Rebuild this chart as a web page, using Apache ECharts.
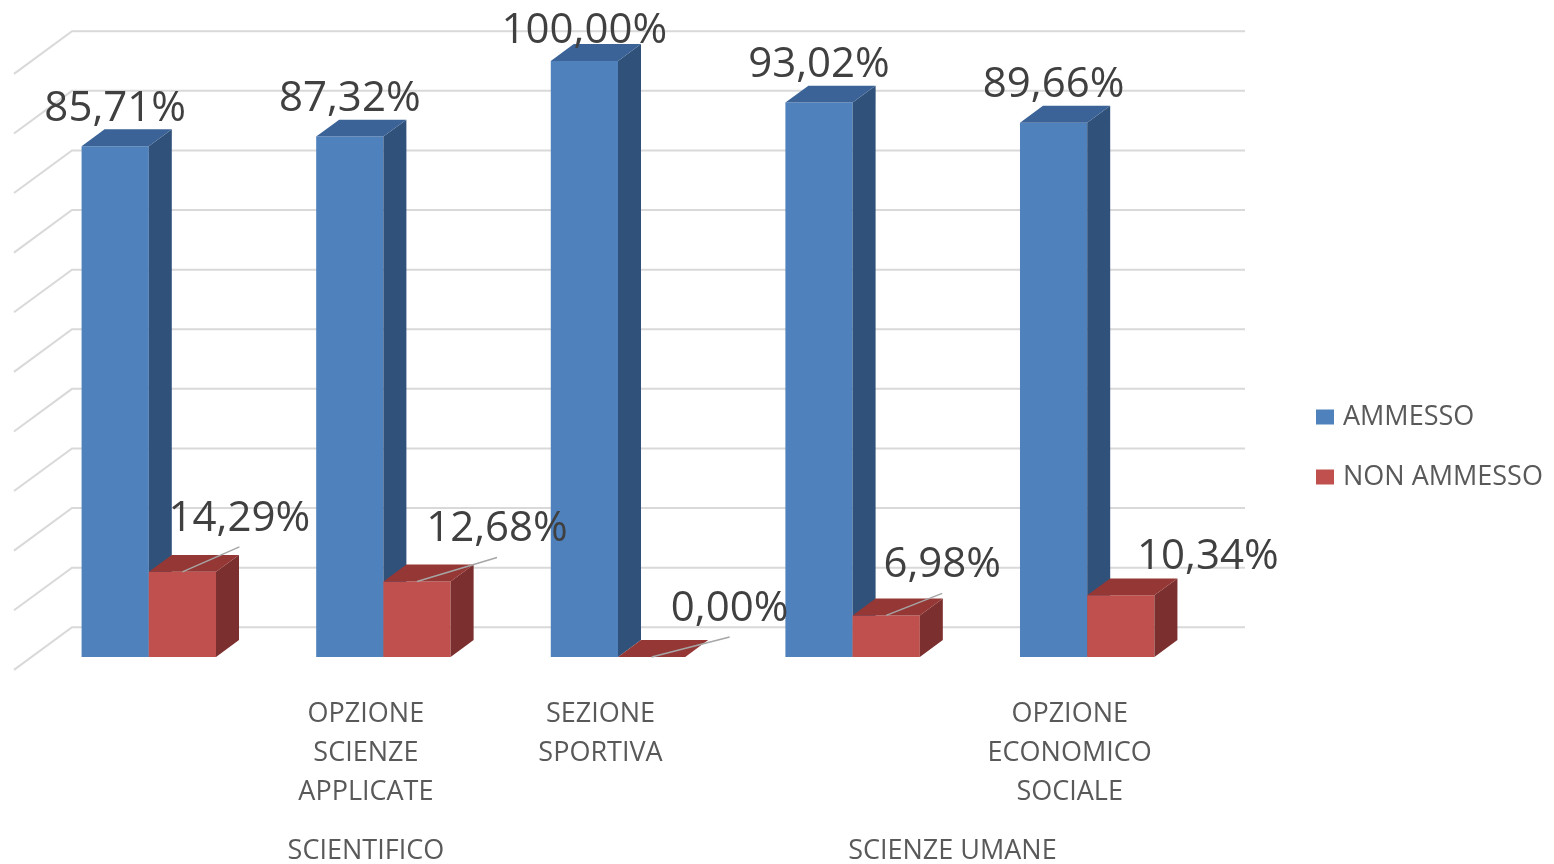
<!DOCTYPE html>
<html>
<head>
<meta charset="utf-8">
<script src="https://cdn.jsdelivr.net/npm/echarts@6/dist/echarts.min.js"></script>
<style>
  html, body { margin: 0; padding: 0; background: #fff; }
  #chart { width: 1554px; height: 864px; }
</style>
</head>
<body>
<div id="chart"></div>
<script>
// data
var categories = ['', 'OPZIONE\nSCIENZE\nAPPLICATE', 'SEZIONE\nSPORTIVA', '', 'OPZIONE\nECONOMICO\nSOCIALE'];
var groupNames = ['SCIENTIFICO', 'SCIENZE UMANE'];
var groupSpans = [[0, 2], [3, 4]];
var ammesso = [85.71, 87.32, 100.00, 93.02, 89.66];
var nonAmmesso = [14.29, 12.68, 0.00, 6.98, 10.34];
var yTicks = [0, 10, 20, 30, 40, 50, 60, 70, 80, 90, 100];

// layout of the fake 3d look
var FONT = '"Open Sans", "Liberation Sans", sans-serif';
var SLOPE = 0.735;          // depth direction: up SLOPE px per px right
var BAR_DEPTH = 23;
var WALL_FRONT = -17.5;
var WALL_BACK = 40.5;
var BAR_RATIO = 0.2865;     // bar width / category width
// red labels were dragged by hand in the original
var redLabelDx = [57, 80, 78, 56, 87];
var redLabelDy = [-56, -55, -51, -53, -41];

var blueFaces = ['#4f81bd', '#3b6397', '#30527a'];
var redFaces = ['#c0504d', '#953735', '#7b2f2e'];

function fmt(v) {
    return v.toFixed(2).replace('.', ',') + '%';
}

function makeBar(side, faces) {
    return function (params, api) {
        var i = api.value(0), v = api.value(1);
        var base = api.coord([i, 0]);
        var top = api.coord([i, v]);
        var w = api.size([1, 0])[0] * BAR_RATIO;
        var x0 = side === 0 ? base[0] - w : base[0];
        var x1 = x0 + w;
        var dx = BAR_DEPTH, dy = -BAR_DEPTH * SLOPE;
        var yt = top[1], yb = base[1];
        var z = side + 1;
        var children = [
            {type: 'rect', z2: z, shape: {x: x0, y: yt, width: w, height: yb - yt}, style: {fill: faces[0]}},
            {type: 'polygon', z2: z, shape: {points: [[x1, yt], [x1 + dx, yt + dy], [x1 + dx, yb + dy], [x1, yb]]}, style: {fill: faces[2]}},
            {type: 'polygon', z2: z, shape: {points: [[x0, yt], [x0 + dx, yt + dy], [x1 + dx, yt + dy], [x1, yt]]}, style: {fill: faces[1]}}
        ];
        var cx = (x0 + x1) / 2, ly, lx = cx;
        if (side === 0) {
            ly = Math.max(yt - 40.5, params.coordSys.y - 33) + 3;
        } else {
            lx = cx + redLabelDx[i];
            ly = yt + redLabelDy[i] + 3;
            // leader line only when the label sits far enough from the bar
            if (redLabelDy[i] < -45) {
                children.push({
                    type: 'line', z2: 9,
                    shape: {x1: cx, y1: yt, x2: lx, y2: ly - 3 + 31},
                    style: {stroke: '#a6a6a6', lineWidth: 1.5}
                });
            }
        }
        children.push({
            type: 'text', z2: 10,
            style: {
                x: lx, y: ly, text: fmt(v), fill: '#404040',
                font: '42px ' + FONT, align: 'center', verticalAlign: 'middle'
            }
        });
        return {type: 'group', children: children};
    };
}

function renderWall(params, api) {
    var cs = params.coordSys;
    var y = api.coord([0, api.value(1)])[1];
    var xl = cs.x, xr = cs.x + cs.width;
    return {
        type: 'polyline', z2: 0,
        shape: {points: [
            [xl + WALL_FRONT, y - WALL_FRONT * SLOPE],
            [xl + WALL_BACK, y - WALL_BACK * SLOPE],
            [xr + WALL_BACK, y - WALL_BACK * SLOPE]
        ]},
        style: {stroke: '#d9d9d9', lineWidth: 2, fill: null}
    };
}

function renderGroup(params, api) {
    var span = groupSpans[params.dataIndex];
    var a = api.coord([span[0], 0]), b = api.coord([span[1], 0]);
    return {
        type: 'text', z2: 10,
        style: {
            x: (a[0] + b[0]) / 2 + WALL_FRONT, y: a[1] + 194.5,
            text: groupNames[params.dataIndex], fill: '#595959',
            font: '27px ' + FONT, align: 'center', verticalAlign: 'middle'
        }
    };
}

var chart = echarts.init(document.getElementById('chart'));
chart.setOption({
    animation: false,
    backgroundColor: '#fff',
    grid: {left: 31.5, right: 349.5, top: 61, bottom: 207},
    legend: {
        data: ['AMMESSO', 'NON AMMESSO'],
        orient: 'vertical',
        left: 1311,
        top: 397,
        icon: 'rect',
        itemWidth: 18,
        itemHeight: 15,
        itemGap: 30,
        selectedMode: false,
        textStyle: {fontFamily: FONT, fontSize: 27, color: '#595959', lineHeight: 30, padding: [0, 0, 0, 4]}
    },
    xAxis: {
        type: 'category',
        data: categories,
        axisLine: {show: false},
        axisTick: {show: false},
        splitLine: {show: false},
        axisLabel: {
            interval: 0,
            margin: 38,
            padding: [0, 35, 0, 0],
            fontFamily: FONT, fontSize: 27, lineHeight: 39, color: '#595959'
        }
    },
    yAxis: {
        type: 'value', min: 0, max: 100, interval: 10,
        show: false
    },
    series: [
        {
            type: 'custom', name: 'walls', silent: true,
            renderItem: renderWall,
            data: yTicks.map(function (t) { return [0, t]; })
        },
        {
            type: 'custom', name: 'AMMESSO',
            itemStyle: {color: blueFaces[0]},
            renderItem: makeBar(0, blueFaces),
            data: ammesso.map(function (v, i) { return [i, v]; })
        },
        {
            type: 'custom', name: 'NON AMMESSO',
            itemStyle: {color: redFaces[0]},
            renderItem: makeBar(1, redFaces),
            data: nonAmmesso.map(function (v, i) { return [i, v]; })
        },
        {
            type: 'custom', name: 'groups', silent: true,
            renderItem: renderGroup,
            data: groupSpans.map(function (s) { return [s[0], 0]; })
        }
    ]
});
</script>
</body>
</html>
